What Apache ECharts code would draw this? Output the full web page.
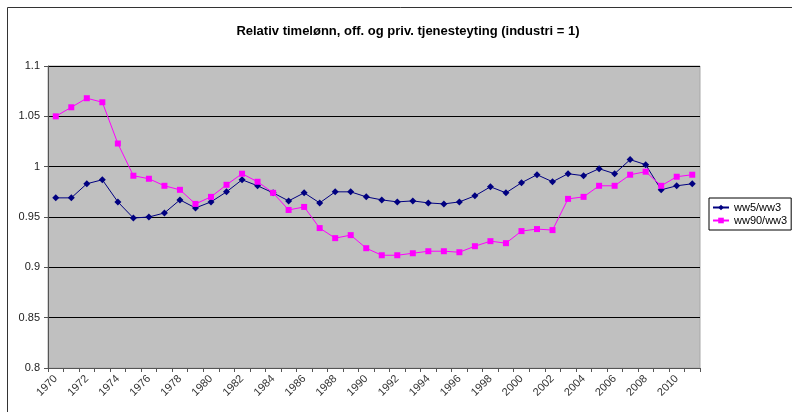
<!DOCTYPE html>
<html>
<head>
<meta charset="utf-8">
<script src="https://cdn.jsdelivr.net/npm/echarts@6/dist/echarts.min.js"></script>
<style>
  html, body { margin: 0; padding: 0; background: #fff; }
  #chart { width: 792px; height: 412px; }
</style>
</head>
<body>
<div id="chart"></div>
<script>
const years = [];
for (let y = 1970; y <= 2011; y++) years.push(String(y));

const ww5 = [
  0.969, 0.969, 0.983, 0.987, 0.965, 0.949, 0.950, 0.954, 0.967, 0.959,
  0.965, 0.975, 0.987, 0.981, 0.974, 0.966, 0.974, 0.964, 0.975, 0.975,
  0.970, 0.967, 0.965, 0.966, 0.964, 0.963, 0.965, 0.971, 0.980, 0.974,
  0.984, 0.992, 0.985, 0.993, 0.991, 0.998, 0.993, 1.007, 1.002, 0.977,
  0.981, 0.983
];
const ww90 = [
  1.050, 1.059, 1.068, 1.064, 1.023, 0.991, 0.988, 0.981, 0.977, 0.963,
  0.970, 0.982, 0.993, 0.985, 0.974, 0.957, 0.960, 0.939, 0.929, 0.932,
  0.919, 0.912, 0.912, 0.914, 0.916, 0.916, 0.915, 0.921, 0.926, 0.924,
  0.936, 0.938, 0.937, 0.968, 0.970, 0.981, 0.981, 0.992, 0.995, 0.981,
  0.990, 0.992
];

const FONT = "Liberation Sans, Arial, sans-serif";
const chart = echarts.init(document.getElementById("chart"), null, { renderer: "canvas" });

chart.setOption({
  animation: false,
  backgroundColor: "#fff",
  title: {
    text: "Relativ timelønn, off. og priv. tjenesteyting (industri = 1)",
    left: 403,
    top: 20,
    textAlign: "center",
    textStyle: { fontFamily: FONT, fontSize: 13, fontWeight: "bold", color: "#000" }
  },
  graphic: [{
    type: "rect",
    shape: { x: 7.5, y: 7.5, width: 800, height: 420 },
    style: { fill: "none", stroke: "#333", lineWidth: 1 },
    silent: true
  }],
  legend: {
    orient: "vertical",
    left: 709,
    top: 198,
    itemWidth: 16,
    itemHeight: 7,
    itemGap: 2,
    padding: [4, 4, 4, 3],
    borderColor: "#000",
    borderWidth: 1,
    backgroundColor: "#fff",
    textStyle: { fontFamily: FONT, fontSize: 11, color: "#000" },
    data: ["ww5/ww3", "ww90/ww3"]
  },
  grid: {
    left: 48, right: 92, top: 66, bottom: 44,
    show: true,
    backgroundColor: "#c0c0c0",
    borderColor: "#a8a8a8",
    borderWidth: 1
  },
  xAxis: {
    type: "category",
    data: years,
    boundaryGap: true,
    axisLine: { lineStyle: { color: "#555", width: 1 } },
    axisTick: { show: true, interval: 0, length: 4, lineStyle: { color: "#555" } },
    axisLabel: {
      interval: 1,
      rotate: 45,
      fontFamily: FONT,
      fontSize: 11,
      color: "#333",
      margin: 9
    },
    splitLine: { show: false }
  },
  yAxis: {
    type: "value",
    min: 0.8,
    max: 1.1,
    interval: 0.05,
    axisLine: { show: true, lineStyle: { color: "#555", width: 1 } },
    axisTick: { show: true, length: 4, lineStyle: { color: "#555" } },
    axisLabel: {
      fontFamily: FONT,
      fontSize: 11,
      color: "#222",
      margin: 8,
      formatter: (v) => String(Math.round(v * 100) / 100)
    },
    splitLine: { show: true, lineStyle: { color: "#000", width: 1 } }
  },
  series: [
    {
      name: "ww5/ww3",
      type: "line",
      data: ww5,
      symbol: "diamond",
      symbolSize: 7,
      lineStyle: { color: "#000080", width: 1 },
      itemStyle: { color: "#000080" }
    },
    {
      name: "ww90/ww3",
      type: "line",
      data: ww90,
      symbol: "rect",
      symbolSize: 6,
      lineStyle: { color: "#ff00ff", width: 1 },
      itemStyle: { color: "#ff00ff" }
    }
  ]
});
</script>
</body>
</html>
